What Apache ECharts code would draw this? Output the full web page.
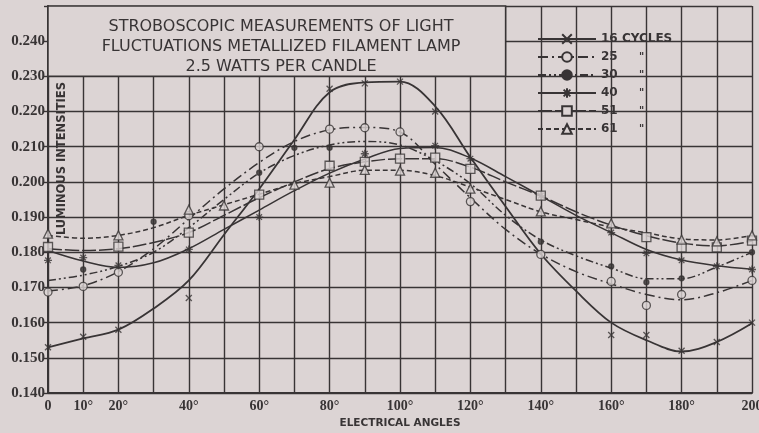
<!DOCTYPE html>
<html>
<head>
<meta charset="utf-8">
<script src="https://cdn.jsdelivr.net/npm/echarts@6/dist/echarts.min.js"></script>
<style>
  html, body { margin: 0; padding: 0; background: #dcd4d4; }
  #chart { width: 759px; height: 433px; }
</style>
</head>
<body>
<div id="chart"></div>
<script>
// electrical angles, one point every 10 degrees
var angles = [0, 10, 20, 30, 40, 50, 60, 70, 80, 90, 100, 110, 120, 130, 140, 150, 160, 170, 180, 190, 200];
var xTickLabels = ['0', '10°', '20°', '', '40°', '', '60°', '', '80°', '', '100°', '', '120°', '', '140°', '', '160°', '', '180°', '', '200'];

// faired curves, read at every 10 degrees
var curve16 = [0.153, 0.1555, 0.158, 0.164, 0.172, 0.185, 0.198, 0.212, 0.2255, 0.2283, 0.2285, 0.2215, 0.207, 0.193, 0.1795, 0.169, 0.160, 0.155, 0.1518, 0.1545, 0.1598];
var curve25 = [0.169, 0.1705, 0.1745, 0.181, 0.1895, 0.198, 0.2055, 0.2115, 0.2148, 0.2155, 0.2142, 0.205, 0.1955, 0.1865, 0.1795, 0.1745, 0.171, 0.168, 0.1665, 0.1685, 0.172];
var curve30 = [0.172, 0.1735, 0.176, 0.180, 0.187, 0.195, 0.2025, 0.2075, 0.2105, 0.2115, 0.2105, 0.206, 0.1995, 0.1905, 0.1835, 0.179, 0.1755, 0.1725, 0.1725, 0.1758, 0.180];
var curve40 = [0.1805, 0.1775, 0.1757, 0.177, 0.181, 0.1865, 0.192, 0.1975, 0.2025, 0.2065, 0.2095, 0.2098, 0.2068, 0.2015, 0.196, 0.1905, 0.1856, 0.1808, 0.1778, 0.1762, 0.1752];
var curve51 = [0.181, 0.1805, 0.181, 0.1828, 0.1856, 0.1905, 0.1955, 0.200, 0.2038, 0.2057, 0.2066, 0.2066, 0.2042, 0.200, 0.196, 0.1915, 0.1877, 0.1847, 0.1826, 0.1818, 0.1832];
var curve61 = [0.1848, 0.184, 0.1848, 0.187, 0.1905, 0.1935, 0.1965, 0.1995, 0.2015, 0.2033, 0.2033, 0.2018, 0.1985, 0.195, 0.1915, 0.1893, 0.1872, 0.1855, 0.1838, 0.1835, 0.1848];

// measured points [angle, intensity]
var marks16 = [[0, 0.153], [10, 0.156], [20, 0.158], [40, 0.167], [80, 0.2265], [90, 0.228], [100, 0.2285], [110, 0.220], [160, 0.1565], [170, 0.1565], [180, 0.152], [190, 0.1545], [200, 0.160]];
var marks25 = [[0, 0.1687], [10, 0.1703], [20, 0.1743], [40, 0.1904], [60, 0.210], [80, 0.215], [90, 0.2154], [100, 0.2142], [120, 0.1944], [140, 0.1794], [160, 0.1717], [170, 0.1649], [180, 0.168], [200, 0.172]];
var marks30 = [[10, 0.1751], [30, 0.1887], [60, 0.2026], [70, 0.2097], [80, 0.2097], [140, 0.183], [160, 0.176], [170, 0.1715], [180, 0.1726], [200, 0.180]];
var marks40 = [[0, 0.1777], [10, 0.1785], [20, 0.1763], [40, 0.1808], [60, 0.190], [90, 0.208], [110, 0.2103], [120, 0.2066], [140, 0.1961], [160, 0.1856], [170, 0.1797], [180, 0.1777], [190, 0.176], [200, 0.1751]];
var marks51 = [[0, 0.1815], [20, 0.1816], [40, 0.1856], [60, 0.1964], [80, 0.2046], [90, 0.2057], [100, 0.2066], [110, 0.2069], [120, 0.2037], [140, 0.1961], [170, 0.1843], [180, 0.1814], [190, 0.1814], [200, 0.1833]];
var marks61 = [[0, 0.1853], [20, 0.1848], [40, 0.1921], [50, 0.1933], [70, 0.1992], [80, 0.1998], [90, 0.2034], [100, 0.2032], [110, 0.2026], [120, 0.1981], [140, 0.1916], [160, 0.1882], [180, 0.1836], [190, 0.1831], [200, 0.1848]];

var ink = '#383435';
var paper = '#dcd4d4';

var symX = 'path://M0,0L10,10M10,0L0,10';
var symStar = 'path://M5,0L5,10M0,5L10,5M1.5,1.5L8.5,8.5M8.5,1.5L1.5,8.5';

// one curve + its measured points, same name so the legend groups them
function cycle(name, curve, marks, dash, symbol, size, filled, width) {
    var item = {
        color: filled ? ink : paper,
        borderColor: ink,
        borderWidth: 1.3
    };
    return [
        {
            name: name,
            type: 'line',
            data: angles.map(function (a, i) { return [a, curve[i]]; }),
            smooth: 0.35,
            symbol: symbol,
            symbolSize: size,
            showSymbol: false,
            itemStyle: item,
            lineStyle: { color: ink, width: width, type: dash },
            emphasis: { disabled: true },
            z: 3
        },
        {
            name: name,
            type: 'scatter',
            data: marks,
            symbol: symbol,
            symbolSize: size,
            itemStyle: item,
            emphasis: { disabled: true },
            z: 4
        }
    ];
}

var series = [].concat(
    cycle('16', curve16, marks16, 'solid', symX, 6, false, 1.8),
    cycle('25', curve25, marks25, [10, 4, 2, 4], 'circle', 8, false, 1.5),
    cycle('30', curve30, marks30, [8, 3, 2, 3, 2, 3], 'circle', 5, true, 1.5),
    cycle('40', curve40, marks40, 'solid', symStar, 8, false, 1.5),
    cycle('51', curve51, marks51, [14, 3], 'rect', 9, false, 1.5),
    cycle('61', curve61, marks61, [5, 3], 'triangle', 9, false, 1.5)
);

//标题框
series[0].markArea = {
    silent: true,
    itemStyle: { color: paper, borderColor: ink, borderWidth: 1.5 },
    data: [[{ coord: [0, 0.23] }, { coord: [130, 0.25] }]]
};

var chart = echarts.init(document.getElementById('chart'));
chart.setOption({
    animation: false,
    backgroundColor: paper,
    title: {
        text: 'STROBOSCOPIC MEASUREMENTS OF LIGHT\nFLUCTUATIONS METALLIZED FILAMENT LAMP\n2.5 WATTS PER CANDLE',
        left: 276,
        top: 12,
        textAlign: 'center',
        textStyle: {
            color: ink,
            fontFamily: 'DejaVu Sans',
            fontSize: 16,
            fontWeight: 'normal',
            lineHeight: 20
        }
    },
    legend: {
        orient: 'vertical',
        left: 532,
        top: 28,
        itemWidth: 58,
        itemHeight: 12,
        itemGap: 6,
        selectedMode: false,
        data: ['16', '25', '30', '40', '51', '61'],
        formatter: function (name) {
            if (name === '16') return '16 CYCLES';
            return '{n|' + name + '}{d|"}';
        },
        textStyle: {
            color: ink,
            fontFamily: 'DejaVu Sans',
            fontSize: 12,
            fontWeight: 'bold',
            rich: {
                n: { width: 38, fontFamily: 'DejaVu Sans', fontSize: 12, fontWeight: 'bold', color: ink },
                d: { fontFamily: 'DejaVu Sans', fontSize: 10, color: ink }
            }
        }
    },
    grid: {
        left: 48,
        right: 7,
        top: 6,
        bottom: 40,
        outerBoundsMode: 'none'
    },
    graphic: [
        {
            type: 'text',
            left: 56,
            top: 82,
            rotation: Math.PI / 2,
            style: {
                text: 'LUMINOUS INTENSITIES',
                fill: ink,
                font: 'bold 11.5px "DejaVu Sans"'
            }
        }
    ],
    xAxis: {
        type: 'value',
        min: 0,
        max: 200,
        interval: 10,
        name: 'ELECTRICAL ANGLES',
        nameLocation: 'middle',
        nameGap: 24,
        nameTextStyle: {
            color: ink,
            fontFamily: 'DejaVu Sans',
            fontSize: 10.5,
            fontWeight: 'bold'
        },
        axisLine: { lineStyle: { color: ink, width: 2 } },
        axisTick: { show: false },
        axisLabel: {
            color: ink,
            fontFamily: 'Liberation Serif',
            fontSize: 14,
            fontWeight: 'bold',
            margin: 6,
            formatter: function (v) { return xTickLabels[Math.round(v / 10)]; }
        },
        splitLine: { show: true, lineStyle: { color: ink, width: 1.4 } }
    },
    yAxis: {
        type: 'value',
        min: 0.14,
        max: 0.25,
        interval: 0.01,
        axisLine: { show: true, lineStyle: { color: ink, width: 2 } },
        axisTick: { show: true, length: 4, lineStyle: { color: ink, width: 1.4 } },
        axisLabel: {
            color: ink,
            fontFamily: 'Liberation Serif',
            fontSize: 15,
            fontWeight: 'bold',
            margin: 3,
            formatter: function (v) { return v > 0.245 ? '' : v.toFixed(3); }
        },
        splitLine: { show: true, lineStyle: { color: ink, width: 1.4 } }
    },
    series: series
});
</script>
</body>
</html>
